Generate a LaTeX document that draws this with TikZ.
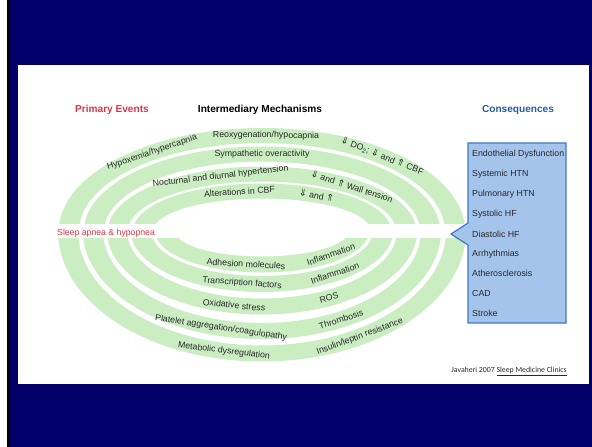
\documentclass[tikz,border=0pt]{standalone}
\usepackage{fontspec}
\setmainfont{Liberation Sans}
\newfontfamily\arrowfont{DejaVu Sans}
\newfontfamily\citefont{Carlito}

\definecolor{slidenavy}{RGB}{0,0,104}
\definecolor{bandgreen}{RGB}{202,237,194}
\definecolor{boxblue}{RGB}{164,196,236}
\definecolor{boxedge}{RGB}{60,120,196}
\definecolor{eventred}{RGB}{222,52,72}
\definecolor{conseqblue}{RGB}{40,90,165}
\definecolor{labelgray}{RGB}{40,40,40}

% hollow double arrows for "decrease" / "increase"
\newcommand{\dn}{{\arrowfont\fontsize{9.5}{10}\selectfont ⇓}}
\newcommand{\up}{{\arrowfont\fontsize{9.5}{10}\selectfont ⇑}}

% labels sitting on the upper / lower half-rings, centre (262,231)
% #1 name, #2 x radius, #3 y radius, #4 parameter angle, #5 text
\newcommand{\upperlabel}[5]{%
  \node[bandtext, rotate={atan2(0-(#3)*cos(#4),(#2)*sin(#4))}] (#1)
    at ({262+(#2)*cos(#4)},{231-(#3)*sin(#4)}) {#5};}
\newcommand{\lowerlabel}[5]{%
  \node[bandtext, rotate={atan2((#3)*cos(#4),(#2)*sin(#4))}] (#1)
    at ({262+(#2)*cos(#4)},{231+(#3)*sin(#4)}) {#5};}

\begin{document}
\begin{tikzpicture}[x=1pt,y=-1pt,
  bandtext/.style={inner sep=0pt, text=labelgray, font=\fontsize{8.8}{10}\selectfont},
  header/.style={inner sep=0pt, font=\bfseries\fontsize{10.1}{12}\selectfont},
  listitem/.style={anchor=west, inner sep=0pt, text=labelgray, font=\fontsize{8.8}{10}\selectfont}]

% slide frame
\fill[white] (0,0) rectangle (592,447);
\fill[black] (7,0) rectangle (10,447);
\fill[slidenavy] (10,0) rectangle (592,447);
\fill[white] (18,65) rectangle (589,384);

% upper half-rings
\begin{scope}
  \clip (0,0) rectangle (592,223);
  \foreach \ao/\bo/\ai/\bi in {203/103/183/88, 178/84.5/158/69.5,
                               154/64.5/134/49.5, 129/47.5/109/32.5}
    \fill[bandgreen, even odd rule]
      (262,231) ellipse [x radius=\ao, y radius=\bo]
      (262,231) ellipse [x radius=\ai, y radius=\bi];
\end{scope}

% lower half-rings
\begin{scope}
  \clip (0,238) rectangle (592,447);
  \foreach \ao/\bo/\ai/\bi in {107/41.5/87/25.5, 131/61/111/45,
                               155/83.5/135/67.5, 179/108/159/92,
                               204/130.5/184/114.5}
    \fill[bandgreen, even odd rule]
      (262,231) ellipse [x radius=\ao, y radius=\bo]
      (262,231) ellipse [x radius=\ai, y radius=\bi];
\end{scope}

% column headings
\node[header, text=eventred] (primary) at (112,110) {Primary Events};
\node[header, text=black] (interm) at (260,110) {Intermediary Mechanisms};
\node[header, text=conseqblue] (conseq) at (518,110) {Consequences};

% primary event
\node[anchor=west, inner sep=0pt, text=eventred, font=\fontsize{8.7}{10}\selectfont]
  (sleep) at (57,233) {Sleep apnea \& hypopnea};

% upper ring labels
\upperlabel{hypox}{193}{95.5}{124.7}{Hypoxemia/hypercapnia}
\upperlabel{reoxy}{193}{95.5}{88.8}{Reoxygenation/hypocapnia}
\upperlabel{dotwo}{193}{95.5}{51.5}{\dn\ DO\textsubscript{2}; \dn\ and \up\ CBF}
\upperlabel{sympa}{168}{77}{90}{Sympathetic overactivity}
\upperlabel{noctu}{144}{57}{106.7}{Nocturnal and diurnal hypertension}
\upperlabel{wallt}{144}{57}{51.4}{\dn\ and \up\ Wall tension}
\upperlabel{alter}{119}{40}{100.9}{Alterations in CBF}
\upperlabel{cbfud}{119}{40}{62.7}{\dn\ and \up}

% lower ring labels
\lowerlabel{adhes}{97}{33.5}{99.5}{Adhesion molecules}
\lowerlabel{infla}{97}{33.5}{44.7}{Inflammation}
\lowerlabel{trans}{121}{53}{99.5}{Transcription factors}
\lowerlabel{inflb}{121}{53}{52.9}{Inflammation}
\lowerlabel{oxida}{145}{75.5}{101.1}{Oxidative stress}
\lowerlabel{rosxx}{145}{75.5}{62.5}{ROS}
\lowerlabel{plate}{169}{100}{104}{Platelet aggregation/coagulopathy}
\lowerlabel{throm}{169}{100}{62.1}{Thrombosis}
\lowerlabel{metab}{194}{122.5}{101.3}{Metabolic dysregulation}
\lowerlabel{insul}{194}{122.5}{59.7}{Insulin/leptin resistance}

% consequences callout
\draw[boxedge, fill=boxblue, line width=1.2pt, line join=miter]
  (468,143) -- (566,143) -- (566,323) -- (468,323) -- (468,245)
  -- (451,234) -- (468,223) -- cycle;
\foreach \nm/\yy/\txt in {endo/154/Endothelial Dysfunction, syst/174/Systemic HTN,
    pulm/194/Pulmonary HTN, sysf/214/Systolic HF, diaf/234/Diastolic HF,
    arrh/254/Arrhythmias, athe/273/Atherosclerosis, cadx/293/CAD, strk/313/Stroke}
  \node[listitem] (\nm) at (472,\yy) {\txt};

% source
\node[anchor=east, inner sep=0pt, text=labelgray, font=\citefont\fontsize{7.8}{9}\selectfont]
  (cite) at (567,371) {Javaheri 2007 \underline{Sleep Medicine Clinics}};
\end{tikzpicture}
\end{document}
